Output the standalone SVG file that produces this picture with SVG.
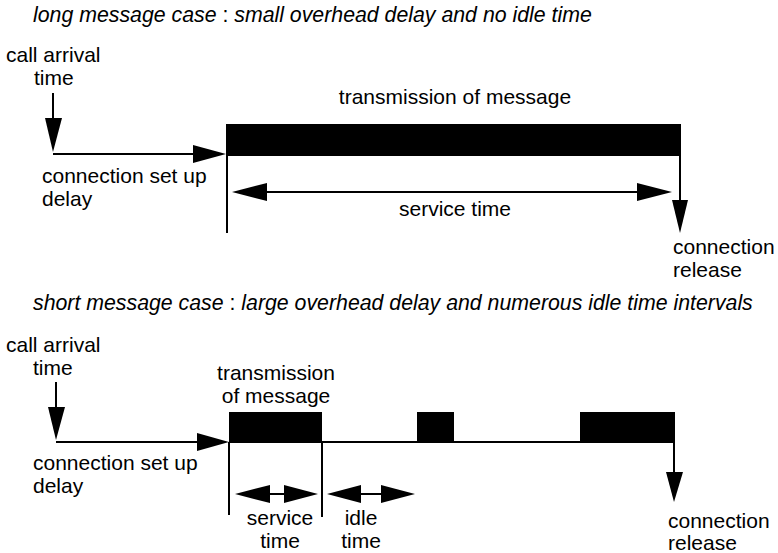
<svg xmlns="http://www.w3.org/2000/svg" width="778" height="553" viewBox="0 0 778 553">
<style>
text{font-family:"Liberation Sans",Arial,sans-serif;font-size:21px;fill:#000}
.t{font-size:21.3px;font-style:italic}
.n{font-style:normal}
.c{text-anchor:middle}
.ln{stroke:#000;stroke-width:2;fill:none}
.bar{fill:#000}
.ah{fill:#000}
</style>
<rect width="778" height="553" fill="#fff"/>
<g id="top">
<text class="t" x="33" y="22">long message case <tspan class="n">:</tspan> small overhead delay and no idle time</text>
<g id="call1"><text x="6" y="62">call arrival</text><text x="34" y="85">time</text></g>
<g id="trans1"><rect class="bar" x="226" y="124" width="455" height="32"/><text class="c" x="455" y="104">transmission of message</text></g>
<g id="setup1"><text x="42" y="183">connection set up</text><text x="42" y="206">delay</text></g>
<g id="svc1"><text class="c" x="455" y="216">service time</text></g>
<g id="rel1"><text x="673" y="254">connection</text><text x="673" y="277">release</text></g>
</g>
<g id="connectors-top">
<line class="ln" x1="53" y1="93" x2="53" y2="120"/>
<polygon class="ah" points="45,118 62,118 53,152"/>
<line class="ln" x1="53" y1="154" x2="195" y2="154"/>
<polygon class="ah" points="193,145 193,163 226,154"/>
<line class="ln" x1="227" y1="154" x2="227" y2="233"/>
<line class="ln" x1="262" y1="192" x2="640" y2="192"/>
<polygon class="ah" points="232,192 267,183 267,201"/>
<polygon class="ah" points="672,192 637,183 637,201"/>
<line class="ln" x1="680" y1="156" x2="680" y2="202"/>
<polygon class="ah" points="672,200 688,200 680,233"/>
</g>
<g id="bottom">
<text class="t" x="33" y="310">short message case <tspan class="n">:</tspan>  large overhead delay and numerous idle time intervals</text>
<g id="call2"><text x="6" y="352">call arrival</text><text x="33" y="375">time</text></g>
<g id="trans2"><text class="c" x="276" y="380">transmission</text><text class="c" x="276" y="403">of message</text><rect class="bar" x="229" y="412" width="93" height="31"/></g>
<g id="burst2"><rect class="bar" x="417" y="412" width="37" height="31"/></g>
<g id="burst3"><rect class="bar" x="580" y="412" width="95" height="31"/></g>
<g id="setup2"><text x="33" y="470">connection set up</text><text x="33" y="493">delay</text></g>
<g id="svc2"><text class="c" x="280" y="525">service</text><text class="c" x="280" y="548">time</text></g>
<g id="idle2"><text class="c" x="361" y="525">idle</text><text class="c" x="361" y="548">time</text></g>
<g id="rel2"><text x="668" y="528">connection</text><text x="668" y="550">release</text></g>
</g>
<g id="connectors-bottom">
<line class="ln" x1="56" y1="382" x2="56" y2="410"/>
<polygon class="ah" points="48,407 65,407 56,440"/>
<line class="ln" x1="56" y1="442" x2="200" y2="442"/>
<polygon class="ah" points="197,433 197,451 229,442"/>
<line class="ln" x1="322" y1="442" x2="675" y2="442"/>
<line class="ln" x1="229" y1="442" x2="229" y2="515"/>
<line class="ln" x1="322" y1="442" x2="322" y2="517"/>
<line class="ln" x1="265" y1="494" x2="288" y2="494"/>
<polygon class="ah" points="235,494 270,485 270,503"/>
<polygon class="ah" points="318,494 284,485 284,503"/>
<line class="ln" x1="356" y1="494" x2="386" y2="494"/>
<polygon class="ah" points="327,494 361,485 361,503"/>
<polygon class="ah" points="415,494 381,485 381,503"/>
<line class="ln" x1="674" y1="443" x2="674" y2="475"/>
<polygon class="ah" points="666,472 683,472 674,502"/>
</g>
</svg>
